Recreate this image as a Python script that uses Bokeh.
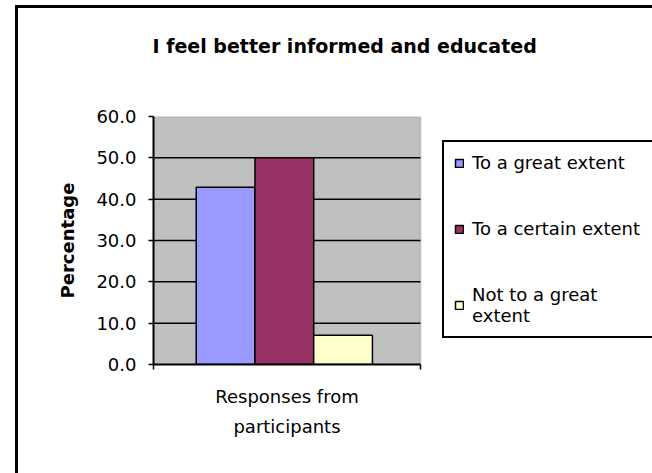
from bokeh.plotting import figure
from bokeh.models import (Range1d, FixedTicker, NumeralTickFormatter, Title,
                          Legend, LegendItem, ColumnDataSource, BoxAnnotation)
from bokeh.transform import dodge
from bokeh.embed import file_html
from bokeh.resources import INLINE

# ---- data ----
title_text = "I feel better informed and educated"
categories = ["Responses from\nparticipants"]
series_names = ["To a great extent", "To a certain extent", "Not to a great\nextent"]
great_extent = [42.9]
certain_extent = [50.0]
not_great_extent = [7.1]
series_values = [great_extent, certain_extent, not_great_extent]
series_colors = ["#9999FF", "#993366", "#FFFFCC"]
y_ticks = [0, 10, 20, 30, 40, 50, 60]
y_label = "Percentage"

FONT = "DejaVu Sans"
n_cat = len(categories)
cat_pos = [i + 0.5 for i in range(n_cat)]
cat_bounds = list(range(n_cat + 1))

# frame spans to the right edge so the legend (drawn over it) is not clipped;
# the grey plot area covers only the category span [0, n_cat]
PLOT_W, FRAME_L, AREA_W = 652, 153, 267
x_end = n_cat * (PLOT_W - FRAME_L) / AREA_W

p = figure(width=PLOT_W, height=473,
           x_range=Range1d(0, x_end), y_range=Range1d(y_ticks[0], y_ticks[-1]),
           output_backend="svg", toolbar_location=None,
           min_border_left=FRAME_L, min_border_right=0,
           min_border_top=116, min_border_bottom=109,
           background_fill_color="white", border_fill_alpha=0)
p.outline_line_color = None

# outer chart-area border (only its left and top edges are inside the crop)
p.styles = {
    "background-image": "linear-gradient(black, black), linear-gradient(black, black)",
    "background-size": "3px 100%, 100% 3px",
    "background-position": "15px 5px, 15px 5px",
    "background-repeat": "no-repeat",
}

# grey plot area
p.add_layout(BoxAnnotation(left=cat_bounds[0], right=cat_bounds[-1],
                           bottom=y_ticks[0], top=y_ticks[-1],
                           fill_color="#C0C0C0", fill_alpha=1,
                           line_color="#808080", line_width=2, level="underlay"))

# horizontal gridlines across the plot area only
grid_y = y_ticks[1:-1]
p.segment(x0=[cat_bounds[0]] * len(grid_y), x1=[cat_bounds[-1]] * len(grid_y),
          y0=grid_y, y1=grid_y, line_color="black", line_width=1.5)

# title (+ spacer between it and the plot)
p.title.text = title_text
p.title.text_font = FONT
p.title.text_font_style = "bold"
p.title.text_font_size = "19px"
p.title.text_color = "black"
p.title.align = "left"
p.title.offset = -1
p.title.vertical_align = "top"
p.title.standoff = 0
p.add_layout(Title(text=" ", text_font_size="1px", standoff=55), "above")

offsets = [-0.23, -0.01, 0.21]
items = []
for name, vals, col, off in zip(series_names, series_values, series_colors, offsets):
    src = ColumnDataSource(dict(x=cat_pos, top=vals))
    r = p.vbar(x=dodge("x", off), top="top", width=0.22, source=src,
               fill_color=col, line_color="black", line_width=1.5)
    items.append(LegendItem(label=name, renderers=[r]))

# axes
p.yaxis.ticker = FixedTicker(ticks=y_ticks)
p.yaxis.formatter = NumeralTickFormatter(format="0.0")
p.yaxis.major_tick_out = 5
p.yaxis.major_tick_in = 0
p.yaxis.minor_tick_line_color = None
p.yaxis.axis_line_color = "black"
p.yaxis.axis_line_width = 2
p.yaxis.major_tick_line_width = 1.5
p.yaxis.major_label_text_font = FONT
p.yaxis.major_label_text_font_size = "18px"
p.yaxis.major_label_text_color = "black"
p.yaxis.major_label_standoff = 12
p.yaxis.axis_label = y_label
p.yaxis.axis_label_text_font = FONT
p.yaxis.axis_label_text_font_style = "bold"
p.yaxis.axis_label_text_font_size = "18px"
p.yaxis.axis_label_text_color = "black"
p.yaxis.axis_label_standoff = 15

p.xaxis.ticker = FixedTicker(ticks=cat_pos, minor_ticks=cat_bounds)
p.xaxis.major_label_overrides = {pos: cat for pos, cat in zip(cat_pos, categories)}
p.xaxis.bounds = (cat_bounds[0], cat_bounds[-1])
p.xaxis.major_tick_line_color = None
p.xaxis.major_tick_out = 0
p.xaxis.minor_tick_out = 5
p.xaxis.minor_tick_in = 0
p.xaxis.minor_tick_line_color = "black"
p.xaxis.minor_tick_line_width = 1.5
p.xaxis.axis_line_color = "black"
p.xaxis.axis_line_width = 2
p.xaxis.major_label_text_font = FONT
p.xaxis.major_label_text_font_size = "18px"
p.xaxis.major_label_text_color = "black"
p.xaxis.major_label_text_line_height = 1.45
p.xaxis.major_label_standoff = 16

p.xgrid.grid_line_color = None
p.ygrid.grid_line_color = None

# legend
legend = Legend(items=items, location=(289, 26),
                border_line_color="black", border_line_width=2, border_line_alpha=1,
                background_fill_color="white", background_fill_alpha=1,
                label_text_font=FONT, label_text_font_size="18px",
                label_text_color="black",
                glyph_width=10, glyph_height=10, label_standoff=8,
                label_width=190, label_height=20,
                spacing=45, padding=10, margin=0)
p.add_layout(legend)

open("out.html", "w").write(file_html(p, INLINE))
